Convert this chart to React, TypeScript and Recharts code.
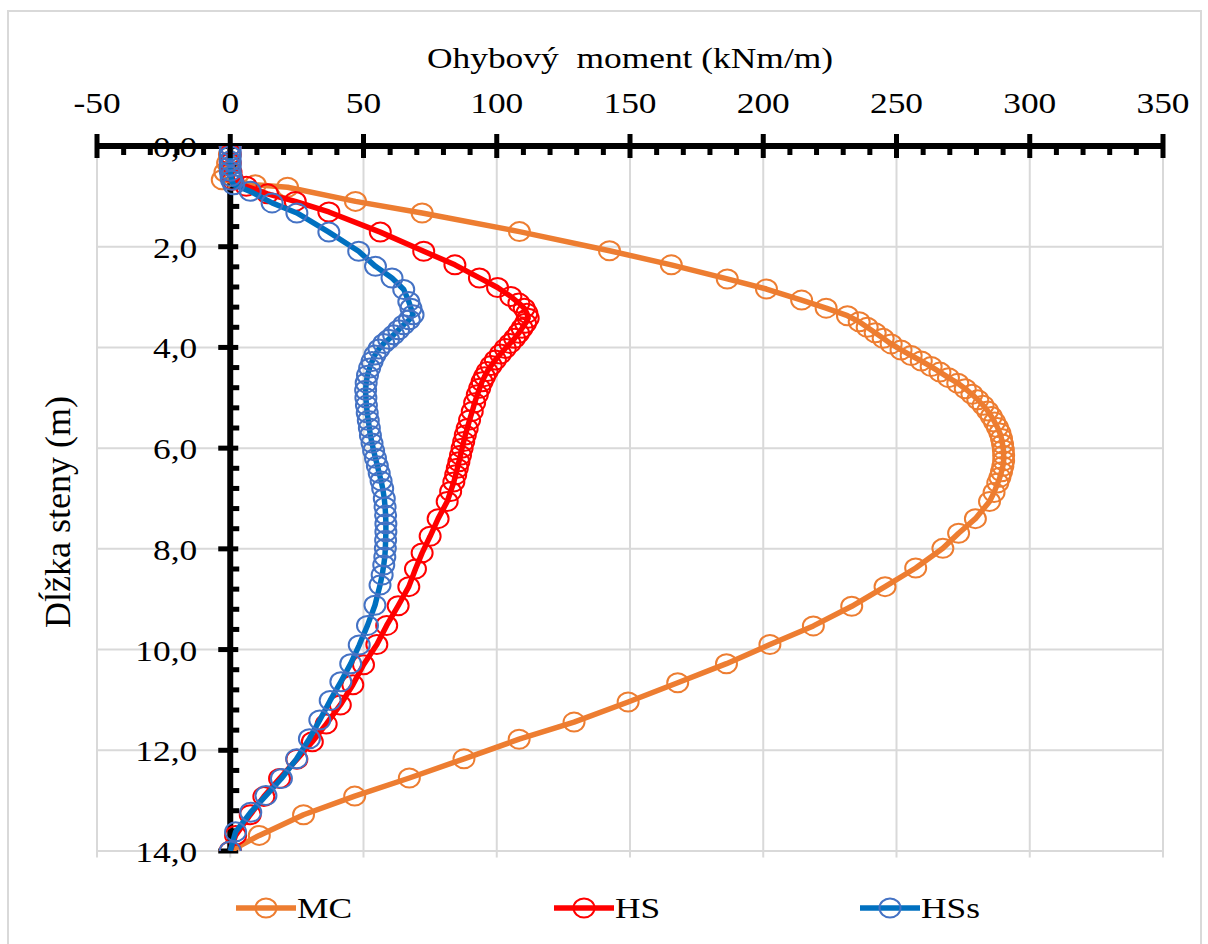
import React from 'react';
import { ComposedChart, Scatter, XAxis, YAxis, ReferenceLine, ReferenceDot } from 'recharts';

document.body.style.margin = '0';

const FONT = '"Liberation Serif", "Times New Roman", serif';
const STRETCH = 1.18;

const mcColor = '#ED7D31';
const hsColor = '#FF0000';
const hssLine = '#0070C0';
const hssMarker = '#4472C4';

// tick labels
const xMajorTicks = [-50, 0, 50, 100, 150, 200, 250, 300, 350];
const yMajorTicks = [0, 2, 4, 6, 8, 10, 12, 14];

// MC
const mcDepth = [0, 0.17, 0.34, 0.52, 0.67, 0.77, 0.82, 1.10, 1.33, 1.70, 2.08, 2.36, 2.64, 2.84, 3.06, 3.22, 3.37, 3.49, 3.60, 3.71, 3.82, 3.93, 4.05, 4.16, 4.27, 4.38, 4.49, 4.60, 4.71, 4.82, 4.93, 5.04, 5.15, 5.26, 5.37, 5.48, 5.59, 5.70, 5.81, 5.92, 6.03, 6.14, 6.25, 6.36, 6.47, 6.58, 6.69, 6.88, 7.06, 7.40, 7.69, 7.99, 8.38, 8.75, 9.14, 9.53, 9.90, 10.28, 10.66, 11.04, 11.44, 11.78, 12.17, 12.55, 12.91, 13.28, 13.69, 14.0];
const mcMoment = [0, -0.3, -1, -2, -3, 9.4, 21.5, 47, 72, 108.5, 142.3, 165.5, 186.5, 201.2, 214.4, 223.6, 231.6, 236, 239, 242, 245, 248, 251.7, 255.5, 259.3, 263, 266.3, 269.5, 273, 275.8, 278.3, 280.5, 282.5, 284.2, 285.6, 286.8, 287.9, 288.8, 289.4, 289.8, 290.1, 290.2, 290.2, 289.9, 289.4, 288.8, 288, 286.6, 284.9, 279.6, 273.3, 267.4, 257.2, 245.7, 233.2, 218.8, 202.5, 186.2, 167.9, 149.3, 129, 108.4, 87.7, 67.2, 46.7, 27.5, 10.9, 0];

// HS
const hsDepth = [0, 0.17, 0.34, 0.52, 0.68, 0.80, 0.95, 1.10, 1.31, 1.71, 2.09, 2.36, 2.62, 2.81, 2.99, 3.12, 3.22, 3.32, 3.42, 3.52, 3.62, 3.72, 3.82, 3.92, 4.02, 4.13, 4.25, 4.36, 4.48, 4.58, 4.68, 4.81, 4.94, 5.10, 5.27, 5.44, 5.61, 5.74, 5.87, 6.00, 6.14, 6.27, 6.40, 6.53, 6.67, 6.86, 7.06, 7.40, 7.75, 8.08, 8.40, 8.75, 9.13, 9.52, 9.90, 10.30, 10.70, 11.10, 11.48, 11.83, 12.18, 12.56, 12.92, 13.28, 13.69, 14.0];
const hsMoment = [0, 0, 0, 0.3, 1, 6, 14, 24.4, 37, 56.3, 72.6, 84.3, 93.5, 100.3, 105.3, 108.3, 110.3, 111.3, 111.8, 110.8, 109.5, 108.2, 106.7, 105, 103.2, 101.4, 99.5, 97.9, 96.4, 95.4, 94.5, 93.6, 92.7, 91.7, 90.8, 89.8, 88.9, 88.2, 87.6, 87, 86.4, 85.8, 85.2, 84.6, 83.9, 82.7, 81.4, 78, 75, 72, 69.5, 67, 63, 58.7, 55, 50, 46, 41.3, 36, 30.8, 25, 18.5, 12.6, 7.5, 2, 0];

// HSs
const hssDepth = [0, 0.1, 0.2, 0.3, 0.4, 0.5, 0.6, 0.68, 0.77, 0.9, 1.13, 1.33, 1.71, 2.09, 2.39, 2.62, 2.85, 3.09, 3.22, 3.35, 3.45, 3.55, 3.65, 3.75, 3.84, 3.92, 4.03, 4.15, 4.28, 4.41, 4.55, 4.70, 4.85, 5.00, 5.15, 5.30, 5.45, 5.60, 5.75, 5.90, 6.05, 6.20, 6.35, 6.50, 6.65, 6.80, 7.00, 7.17, 7.33, 7.50, 7.66, 7.83, 7.99, 8.16, 8.32, 8.52, 8.72, 9.12, 9.52, 9.91, 10.28, 10.64, 11.01, 11.40, 11.77, 12.17, 12.56, 12.90, 13.23, 13.62, 14.0];
const hssMoment = [0, 0, 0, 0, 0, 0, 0.3, 0.5, 1.3, 7.5, 15.7, 25, 37, 48.2, 54.5, 60.7, 65.1, 67, 67.8, 68.6, 67.2, 65.1, 63.2, 61.3, 59.4, 57.6, 55.8, 54.3, 53.2, 52.3, 51.5, 51, 50.8, 50.9, 51.1, 51.4, 51.8, 52.2, 52.6, 53.2, 53.8, 54.5, 55.2, 55.9, 56.6, 57.2, 57.8, 58.1, 58.3, 58.4, 58.4, 58.3, 58.2, 58, 57.6, 57, 56.2, 54.3, 51.5, 48.4, 45.2, 41.5, 37.5, 33.6, 29.7, 24.9, 19.2, 13.4, 7.7, 2, 0];

const toPoints = (depth: number[], moment: number[]) =>
  depth.map((d, i) => ({ x: moment[i], y: d }));

const mcData = toPoints(mcDepth, mcMoment);
const hsData = toPoints(hsDepth, hsMoment);
const hssData = toPoints(hssDepth, hssMoment);

// minor ticks every 10 kNm/m and every 0.4 m
const xAllTicks: number[] = [];
for (let v = -50; v <= 350; v += 10) xAllTicks.push(v);
const yAllTicks: number[] = [];
for (let i = 0; i <= 35; i++) yAllTicks.push(Math.round(i * 0.4 * 10) / 10);

const fmtY = (v: number) => v.toFixed(1).replace('.', ',');

const XTick = (props: any) => {
  const { x, y, payload } = props;
  const v = payload.value;
  if (v % 50 !== 0) {
    return <rect x={x - 2.5} y={y} width={5} height={9} fill="#000" />;
  }
  return (
    <g>
      <rect x={x - 2.5} y={y - 12} width={5} height={24} fill="#000" />
      <g transform={`translate(${x},${y - 33}) scale(${STRETCH},1)`}>
        <text x={0} y={0} textAnchor="middle" fontFamily={FONT} fontSize={30} fill="#000">{v}</text>
      </g>
    </g>
  );
};

const yTickShape = (v: number) => (p: any) => {
  const { cx, cy } = p;
  const major = yMajorTicks.includes(v);
  if (!major) {
    return <rect x={cx} y={cy - 2.5} width={9} height={5} fill="#000" />;
  }
  return (
    <g>
      {v !== 0 && <rect x={cx - 12} y={cy - 2.5} width={20} height={5} fill="#000" />}
      <g transform={`translate(${cx - 33},${cy + 11}) scale(${STRETCH},1)`}>
        <text x={0} y={0} textAnchor="end" fontFamily={FONT} fontSize={30} fill="#000">{fmtY(v)}</text>
      </g>
    </g>
  );
};

const marker = (color: string) => (p: any) => (
  <ellipse cx={p.cx} cy={p.cy} rx={10.5} ry={9.5} fill="none" stroke={color} strokeWidth={2} />
);

const legendItems = [
  { name: 'MC', line: mcColor, mark: mcColor, left: 236 },
  { name: 'HS', line: hsColor, mark: hsColor, left: 554 },
  { name: 'HSs', line: hssLine, mark: hssMarker, left: 860 },
];

export default function App() {
  return (
    <div style={{ position: 'relative', width: 1208, height: 944, background: '#fff', overflow: 'hidden' }}>
      <div style={{ position: 'absolute', left: 7, top: 10, width: 1191, height: 960, border: '2px solid #d9d9d9' }} />
      <div
        style={{
          position: 'absolute', left: 630, top: 40, fontFamily: FONT, fontSize: 30, lineHeight: '36px',
          whiteSpace: 'pre', transform: `translateX(-50%) scaleX(${STRETCH})`, color: '#000',
        }}
      >
        {'Ohybový  moment (kNm/m)'}
      </div>
      <div
        style={{
          position: 'absolute', left: 58, top: 512, fontFamily: FONT, fontSize: 36, lineHeight: '40px',
          whiteSpace: 'pre', transform: 'translate(-50%,-50%) rotate(-90deg)', color: '#000',
        }}
      >
        Dĺžka steny (m)
      </div>
      <div style={{ position: 'absolute', left: 0, top: 0 }}>
        <ComposedChart width={1208} height={944} margin={{ top: 86, right: 45, bottom: 93, left: 97 }}>
          <XAxis
            type="number"
            dataKey="x"
            orientation="top"
            domain={[-50, 350]}
            ticks={xAllTicks}
            interval={0}
            height={60}
            allowDataOverflow
            axisLine={{ stroke: '#000', strokeWidth: 6 }}
            tickLine={false}
            tickSize={0}
            tickMargin={0}
            tick={<XTick />}
          />
          <YAxis type="number" dataKey="y" domain={[0, 14]} reversed hide width={0} allowDataOverflow />
          {xMajorTicks.map((v) => (
            <ReferenceLine key={`gx${v}`} x={v} stroke="#d9d9d9" strokeWidth={2} />
          ))}
          {xMajorTicks.map((v) => (
            <ReferenceLine
              key={`gxt${v}`}
              segment={[{ x: v, y: 14 }, { x: v, y: 14.13 }]}
              ifOverflow="visible"
              stroke="#d9d9d9"
              strokeWidth={2}
            />
          ))}
          {yMajorTicks.filter((v) => v > 0).map((v) => (
            <ReferenceLine key={`gy${v}`} y={v} stroke="#d9d9d9" strokeWidth={2} />
          ))}
          <ReferenceLine x={0} stroke="#000" strokeWidth={6} />
          {yAllTicks.map((v) => (
            <ReferenceDot key={`yt${v}`} x={0} y={v} r={1} shape={yTickShape(v)} />
          ))}
          <Scatter
            name="MC"
            data={mcData}
            fill={mcColor}
            line={{ stroke: mcColor, strokeWidth: 5.5, strokeLinejoin: 'round' }}
            lineType="joint"
            shape={marker(mcColor)}
            isAnimationActive={false}
          />
          <Scatter
            name="HS"
            data={hsData}
            fill={hsColor}
            line={{ stroke: hsColor, strokeWidth: 5.5, strokeLinejoin: 'round' }}
            lineType="joint"
            shape={marker(hsColor)}
            isAnimationActive={false}
          />
          <Scatter
            name="HSs"
            data={hssData}
            fill={hssLine}
            line={{ stroke: hssLine, strokeWidth: 5.5, strokeLinejoin: 'round' }}
            lineType="joint"
            shape={marker(hssMarker)}
            isAnimationActive={false}
          />
        </ComposedChart>
      </div>
      {legendItems.map((it) => (
        <div key={it.name} style={{ position: 'absolute', left: it.left, top: 890, height: 36, display: 'flex', alignItems: 'center' }}>
          <svg width={60} height={36}>
            <line x1={0} y1={18} x2={60} y2={18} stroke={it.line} strokeWidth={5.5} />
            <ellipse cx={30} cy={18} rx={10.5} ry={9.5} fill="none" stroke={it.mark} strokeWidth={2} />
          </svg>
          <span
            style={{
              fontFamily: FONT, fontSize: 30, lineHeight: '36px', display: 'inline-block',
              transform: `scaleX(${STRETCH})`, transformOrigin: 'left center', marginLeft: 1,
            }}
          >
            {it.name}
          </span>
        </div>
      ))}
    </div>
  );
}
